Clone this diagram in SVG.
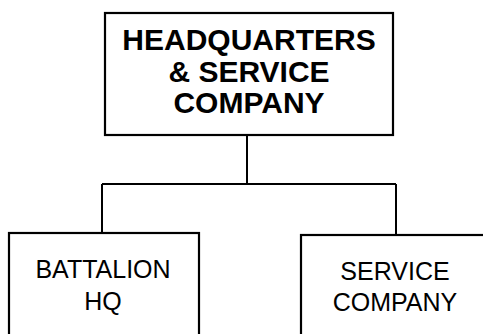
<svg xmlns="http://www.w3.org/2000/svg" width="483" height="334" viewBox="0 0 483 334">
<style>
.box{fill:#fff;stroke:#000;stroke-width:2.2}
.ln{fill:none;stroke:#000;stroke-width:2}
.t1{font-family:"Liberation Sans",Arial,sans-serif;font-weight:bold;font-size:30px;text-anchor:middle;fill:#000}
.t2{font-family:"Liberation Sans",Arial,sans-serif;font-size:25px;text-anchor:middle;fill:#000}
</style>
<rect width="483" height="334" fill="#fff"/>
<g id="connectors">
<path class="ln" d="M247 135V184M102 184H396M102 184V233M396 184V235"/>
</g>
<g id="hq">
<rect class="box" x="105" y="13" width="288" height="122"/>
<text class="t1" x="249" y="50">HEADQUARTERS</text>
<text class="t1" x="249" y="82">&amp; SERVICE</text>
<text class="t1" x="249" y="113">COMPANY</text>
</g>
<g id="battalion">
<rect class="box" x="9" y="233" width="190" height="110"/>
<text class="t2" x="103" y="278">BATTALION</text>
<text class="t2" x="103" y="310">HQ</text>
</g>
<g id="service">
<rect class="box" x="301" y="235" width="190" height="110"/>
<text class="t2" x="395" y="280">SERVICE</text>
<text class="t2" x="395" y="311">COMPANY</text>
</g>
</svg>
